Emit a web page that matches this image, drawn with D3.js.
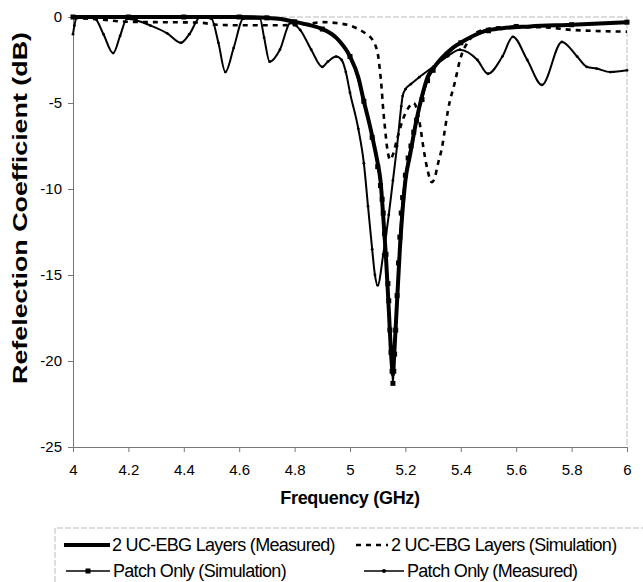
<!DOCTYPE html>
<html>
<head>
<meta charset="utf-8">
<script src="https://cdn.jsdelivr.net/npm/d3@7"></script>
<style>
  body { margin: 0; background: #fff; }
  text { font-family: "Liberation Sans", Arial, sans-serif; }
</style>
</head>
<body>
<script>

// x ticks and y ticks
var xTicks = [4, 4.2, 4.4, 4.6, 4.8, 5, 5.2, 5.4, 5.6, 5.8, 6];
var yTicks = [0, -5, -10, -15, -20, -25];

// 2 UC-EBG Layers (Measured)
var ebgMeasF = [4.0, 4.6, 4.7, 4.75, 4.8, 4.85, 4.9, 4.95, 5.0, 5.03, 5.05, 5.07, 5.085, 5.1, 5.11, 5.12, 5.13, 5.14, 5.15, 5.155, 5.16, 5.17, 5.18, 5.19, 5.2, 5.217, 5.24, 5.26, 5.28, 5.3, 5.33, 5.37, 5.41, 5.48, 5.55, 5.65, 5.8, 6.0];
var ebgMeasV = [0, 0, -0.05, -0.12, -0.28, -0.45, -0.7, -1.2, -2.3, -3.5, -4.9, -6.2, -7.3, -8.5, -9.5, -11.6, -14, -17, -20, -20.8, -19.5, -16.5, -13.5, -11.2, -9.5, -8, -6, -4.6, -3.5, -3.0, -2.4, -1.8, -1.4, -0.85, -0.65, -0.55, -0.45, -0.3];

// 2 UC-EBG Layers (Simulation)
var ebgSimF = [4.0, 4.1, 4.2, 4.3, 4.45, 4.52, 4.6, 4.7, 4.8, 4.85, 4.9, 4.95, 5.0, 5.036, 5.06, 5.08, 5.095, 5.1, 5.108, 5.114, 5.119, 5.126, 5.134, 5.145, 5.155, 5.17, 5.19, 5.21, 5.23, 5.245, 5.255, 5.265, 5.28, 5.295, 5.305, 5.318, 5.332, 5.343, 5.354, 5.38, 5.397, 5.433, 5.48, 5.55, 5.7, 5.8, 6.0];
var ebgSimV = [-0.05, -0.15, -0.28, -0.3, -0.32, -0.45, -0.48, -0.48, -0.47, -0.4, -0.3, -0.35, -0.5, -0.75, -1.0, -1.3, -1.8, -2.1, -3.1, -4.1, -5.2, -6.4, -7.6, -8.3, -8.0, -7.1, -6.0, -5.3, -5.0, -5.6, -6.5, -7.6, -8.9, -9.6, -9.4, -8.5, -7.6, -6.5, -5.4, -3.7, -2.5, -1.3, -0.75, -0.6, -0.6, -0.75, -0.85];

// Patch Only (Simulation)
var patchSimF = [4.0, 4.2, 4.4, 4.6, 4.7, 4.8, 4.9, 5.0, 5.05, 5.08, 5.1, 5.11, 5.116, 5.12, 5.125, 5.13, 5.137, 5.14, 5.144, 5.148, 5.152, 5.155, 5.158, 5.161, 5.165, 5.17, 5.175, 5.18, 5.185, 5.19, 5.2, 5.21, 5.22, 5.23, 5.24, 5.26, 5.28, 5.3, 5.35, 5.4, 5.5, 5.6, 5.8, 6.0];
var patchSimV = [0, 0, 0, 0, -0.05, -0.28, -0.7, -2.3, -4.9, -7, -8.7, -9.8, -10.6, -11.4, -12.6, -13.8, -15.5, -16.5, -18.2, -19.5, -20.6, -21.3, -20.6, -19.6, -18.2, -16.2, -14.3, -12.8, -11.4, -10.5, -9.2, -8.2, -7.5, -6.7, -6.0, -4.8, -3.7, -3.1, -2.2, -1.5, -0.8, -0.55, -0.45, -0.3];

// Patch Only (Measured)
var patchMeasF = [4.0, 4.005, 4.015, 4.05, 4.08, 4.11, 4.145, 4.17, 4.195, 4.23, 4.28, 4.34, 4.39, 4.42, 4.46, 4.5, 4.525, 4.55, 4.58, 4.615, 4.675, 4.69, 4.71, 4.747, 4.785, 4.82, 4.86, 4.9, 4.92, 4.95, 4.97, 4.985, 5.0, 5.03, 5.05, 5.065, 5.08, 5.09, 5.1, 5.12, 5.14, 5.155, 5.17, 5.185, 5.19, 5.2, 5.22, 5.25, 5.3, 5.35, 5.397, 5.46, 5.498, 5.55, 5.588, 5.64, 5.693, 5.765, 5.82, 5.855, 5.89, 5.94, 6.0];
var patchMeasV = [-1.0, -0.5, 0, 0, -0.1, -1.0, -2.1, -1.1, -0.1, -0.2, -0.5, -0.95, -1.5, -1.0, 0, -0.1, -1.5, -3.2, -1.8, -0.1, -0.1, -1.2, -2.6, -1.9, -0.35, -0.75, -1.9, -2.9, -2.6, -2.3, -2.5, -3.2, -4.4, -6.5, -8.5, -11, -13.5, -15, -15.6, -13.8, -11.5, -9.5, -7.5, -5.2, -4.6, -4.2, -3.9, -3.5, -2.9, -2.3, -1.9, -2.5, -3.3, -2.3, -1.15, -2.5, -3.95, -1.45, -2.3, -2.9, -3.0, -3.2, -3.1];

var legendNames = ["2 UC-EBG Layers (Measured)", "2 UC-EBG Layers (Simulation)", "Patch Only (Simulation)", "Patch Only (Measured)"];

var W = 643, H = 582;
var margin = {left: 73, right: 16, top: 17, bottom: 135};

var svg = d3.select("body").append("svg")
    .attr("width", W)
    .attr("height", H);

var x = d3.scaleLinear()
    .domain([4, 6])
    .range([margin.left, W - margin.right]);

var y = d3.scaleLinear()
    .domain([-25, 0])
    .range([H - margin.bottom, margin.top]);

// plot frame (light, dashed look like the scan)
svg.append("path")
    .attr("d", "M" + x(4) + "," + y(0) + "H" + x(6) + "V" + y(-25))
    .style("fill", "none")
    .style("stroke", "#bbb")
    .style("stroke-width", 1)
    .style("stroke-dasharray", "6,2");

var xAxis = d3.axisBottom(x)
    .tickValues(xTicks)
    .tickFormat(function (d) { return String(d); })
    .tickSizeInner(5)
    .tickSizeOuter(0)
    .tickPadding(12);

var yAxis = d3.axisLeft(y)
    .tickValues(yTicks)
    .tickFormat(function (d) { return String(d); })
    .tickSizeInner(5)
    .tickSizeOuter(0)
    .tickPadding(6);

var gx = svg.append("g")
    .attr("class", "x axis")
    .attr("transform", "translate(0," + y(-25) + ")")
    .call(xAxis);

var gy = svg.append("g")
    .attr("class", "y axis")
    .attr("transform", "translate(" + x(4) + ",0)")
    .call(yAxis);

[gx, gy].forEach(function (g) {
    g.selectAll("path, line").style("stroke", "#777").style("stroke-width", 1);
    g.selectAll("text")
        .style("font-size", "15px")
        .style("fill", "#000")
        .style("font-family", "Liberation Sans, Arial, sans-serif");
});

var zip = function (fs, vs) {
    return fs.map(function (f, i) { return {f: f, v: vs[i]}; });
};

var line = d3.line()
    .x(function (d) { return x(d.f); })
    .y(function (d) { return y(d.v); })
    .curve(d3.curveMonotoneX);

var ebgMeas = zip(ebgMeasF, ebgMeasV);
var ebgSim = zip(ebgSimF, ebgSimV);
var patchSim = zip(patchSimF, patchSimV);
var patchMeas = zip(patchMeasF, patchMeasV);

// Patch Only (Measured): thin line, small dots
svg.append("path")
    .attr("d", line(patchMeas))
    .style("stroke", "#000")
    .style("stroke-width", 2)
    .style("fill", "none");

svg.selectAll(".pm")
    .data(patchMeas)
    .enter().append("circle")
    .attr("class", "pm")
    .attr("cx", function (d) { return x(d.f); })
    .attr("cy", function (d) { return y(d.v); })
    .attr("r", 1.4)
    .style("fill", "#000");

// 2 UC-EBG Layers (Simulation): dashed
svg.append("path")
    .attr("d", line(ebgSim))
    .style("stroke", "#000")
    .style("stroke-width", 2.6)
    .style("stroke-dasharray", "5,5")
    .style("fill", "none");

// 2 UC-EBG Layers (Measured): thick
svg.append("path")
    .attr("d", line(ebgMeas))
    .style("stroke", "#000")
    .style("stroke-width", 4)
    .style("fill", "none");

// Patch Only (Simulation): line with squares
svg.append("path")
    .attr("d", line(patchSim))
    .style("stroke", "#000")
    .style("stroke-width", 1.6)
    .style("fill", "none");

svg.selectAll(".ps")
    .data(patchSim)
    .enter().append("rect")
    .attr("class", "ps")
    .attr("x", function (d) { return x(d.f) - 2.5; })
    .attr("y", function (d) { return y(d.v) - 2.5; })
    .attr("width", 5)
    .attr("height", 5)
    .style("fill", "#000");

// axis titles
svg.append("text")
    .attr("x", (x(4) + x(6)) / 2)
    .attr("y", 504)
    .attr("text-anchor", "middle")
    .style("font-size", "18px")
    .style("font-weight", "bold")
    .style("letter-spacing", "-0.3px")
    .text("Frequency (GHz)");

svg.append("text")
    .attr("transform", "translate(27,208) rotate(-90)")
    .attr("text-anchor", "middle")
    .attr("textLength", 352)
    .attr("lengthAdjust", "spacingAndGlyphs")
    .style("font-size", "21px")
    .style("font-weight", "bold")
    .text("Refelection Coefficient (dB)");

// legend
var lg = svg.append("g").attr("class", "legend");

lg.append("path")
    .attr("d", "M55," + H + "V528H" + W)
    .style("fill", "none")
    .style("stroke", "#bbb")
    .style("stroke-dasharray", "6,2");

var legendPos = [
    {x0: 64, x1: 110, tx: 112, y: 545},
    {x0: 356, x1: 388, tx: 391, y: 545},
    {x0: 66, x1: 110, tx: 113, y: 571},
    {x0: 364, x1: 404, tx: 407, y: 571}
];

var legendStyle = [
    {w: 4, dash: null},
    {w: 2.6, dash: "5,5"},
    {w: 1.6, dash: null},
    {w: 1.6, dash: null}
];

legendNames.forEach(function (name, i) {
    var p = legendPos[i], s = legendStyle[i];
    lg.append("line")
        .attr("x1", p.x0).attr("x2", p.x1)
        .attr("y1", p.y).attr("y2", p.y)
        .style("stroke", "#000")
        .style("stroke-width", s.w)
        .style("stroke-dasharray", s.dash);
    if (i === 2) {
        lg.append("rect")
            .attr("x", (p.x0 + p.x1) / 2 - 2.5).attr("y", p.y - 2.5)
            .attr("width", 5).attr("height", 5)
            .style("fill", "#000");
    }
    if (i === 3) {
        lg.append("circle")
            .attr("cx", (p.x0 + p.x1) / 2).attr("cy", p.y)
            .attr("r", 2)
            .style("fill", "#000");
    }
    lg.append("text")
        .attr("x", p.tx)
        .attr("y", p.y)
        .attr("dy", "0.35em")
        .style("font-size", "18px")
        .style("letter-spacing", "-0.7px")
        .text(name);
});

</script>
</body>
</html>
